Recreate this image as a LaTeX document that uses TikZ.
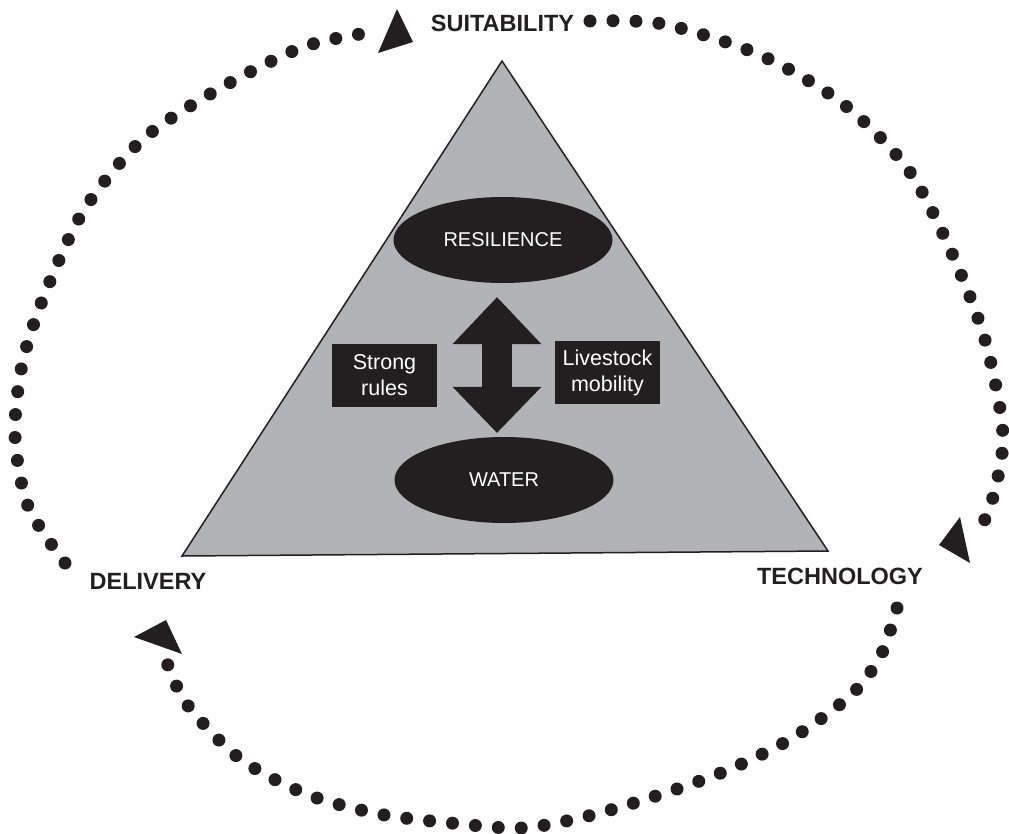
\documentclass[tikz,border=0pt]{standalone}
\usepackage{fontspec}
\setmainfont{Liberation Sans}
\usetikzlibrary{arrows.meta,shapes.geometric}
\definecolor{ink}{HTML}{231F20}
\definecolor{panel}{HTML}{B1B3B6}
\tikzstyle{lbl}=[text=ink,
                 font=\fontsize{23.5}{28}\selectfont\bfseries]
\tikzstyle{oval}=[shape=ellipse,
                  fill=ink,
                  text=white,
                  inner sep=0pt,
                  minimum width=219pt,
                  minimum height=86pt,
                  font=\fontsize{20}{24}\selectfont]
\tikzstyle{tag}=[shape=rectangle,
                 fill=ink,
                 text=white,
                 inner sep=0pt,
                 align=center,
                 minimum width=105pt,
                 minimum height=63pt,
                 font=\fontsize{21.5}{26}\selectfont]
\tikzstyle{dotline}=[ink,
                     line width=13pt,
                     line cap=round,
                     dash pattern=on 0pt off 23pt]

\begin{document}
\begin{tikzpicture}[x=1pt,y=-1pt]
\useasboundingbox (0,0) rectangle (1009,833);

% triangle
\draw[fill=panel,draw=ink,line width=1.5pt] (502,61) -- (828,551) -- (182,556) -- cycle;

% ovals
\node[oval] (res) at (503,240) {RESILIENCE};
\node[oval] (wat) at (504,480) {WATER};

% side boxes
\node[tag] (rules) at (384.5,375.5) {Strong\\rules};
\node[tag] (mob)   at (607.5,372.5) {Livestock\\mobility};

% arrow between ovals
\draw[ink,line width=30pt,
      {Triangle[width=89pt,length=47pt,line width=0pt]}-{Triangle[width=89pt,length=46pt,line width=0pt]}]
  ([xshift=-6pt,yshift=-14pt]res.south) -- ([xshift=-7pt,yshift=4pt]wat.north);

% corner labels
\node[lbl] (suit)  at (502.5,23.5) {SUITABILITY};
\node[lbl] (deliv) at (148,581)    {DELIVERY};
\node[lbl] (tech)  at (840,576)    {TECHNOLOGY};

% dotted cycle
\draw[dotline] plot[smooth] coordinates {(65,563) (28,506) (15,436) (22,365) (44,296) (84,210) (142,140) (217,90) (303,47) (373,32)};
\draw[dotline] plot[smooth] coordinates {(590,21) (663,24) (760,55) (842,103) (907,168) (950,249) (985,340) (1003,437) (989,511) (974,530)};
\draw[dotline] plot[smooth] coordinates {(897,608) (881,655) (852,694) (794,737) (728,770) (659,795) (588,816) (522,828) (451,823) (379,814) (306,794) (239,758) (186,703) (165,657)};

% arrow heads
\fill[ink] (378,53) -- (397,9) -- (413,42) -- cycle;
\fill[ink] (939,545) -- (960,517) -- (970,563) -- cycle;
\fill[ink] (134,637) -- (166,620) -- (182,654) -- cycle;

\end{tikzpicture}
\end{document}
